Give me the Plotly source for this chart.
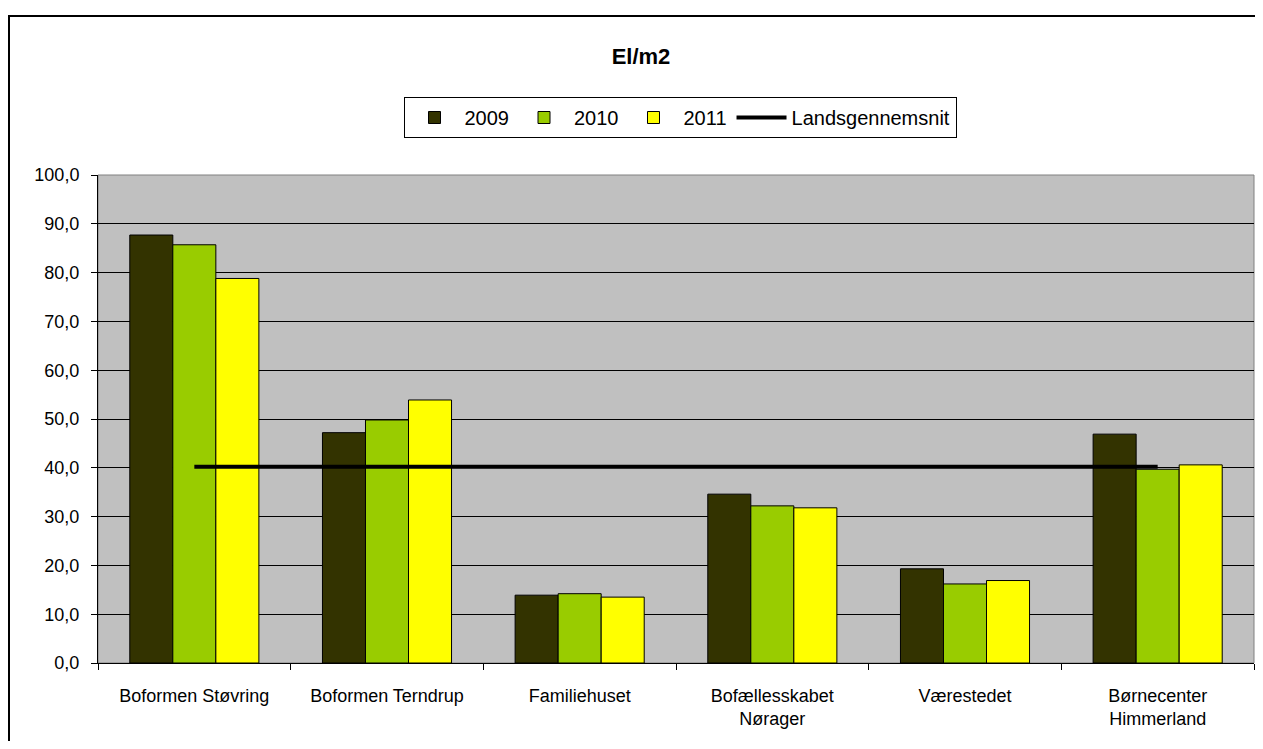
import plotly.graph_objects as go

categories = ["Boformen Støvring", "Boformen Terndrup", "Familiehuset",
              "Bofællesskabet<br>Nørager", "Værestedet", "Børnecenter<br>Himmerland"]
v2009 = [87.7, 47.2, 13.9, 34.6, 19.3, 46.9]
v2010 = [85.7, 49.8, 14.2, 32.2, 16.2, 39.7]
v2011 = [78.8, 53.9, 13.5, 31.8, 16.9, 40.6]
landsgennemsnit = [40.2] * len(categories)
y_ticks = [0, 10, 20, 30, 40, 50, 60, 70, 80, 90, 100]

OFF = 8  # page body margin
W, H = 1263 - 2 * OFF, 749 - 2 * OFF
L, R, T, B = 98 - OFF, 1254 - OFF, 175 - OFF, 663 - OFF


def px(x):
    return (x - OFF - L) / (R - L)


def py(y):
    return (B - (y - OFF)) / (B - T)


FAM = "Liberation Sans, Arial, sans-serif"
font = dict(family=FAM, size=18, color="black")

fig = go.Figure()
for name, vals, col in [("2009", v2009, "#333300"), ("2010", v2010, "#99CC00"), ("2011", v2011, "#FFFF00")]:
    fig.add_trace(go.Bar(x=categories, y=vals, name=name,
                         marker=dict(color=col, line=dict(color="black", width=1))))
fig.add_trace(go.Scatter(x=categories, y=landsgennemsnit, name="Landsgennemsnit",
                         mode="lines", line=dict(color="black", width=4)))

fig.update_layout(
    width=W, height=H,
    margin=dict(l=L, r=W - R, t=T, b=H - B, pad=0),
    paper_bgcolor="white", plot_bgcolor="#C0C0C0",
    font=font,
    separators=",.",
    barmode="group", bargap=0.33, bargroupgap=0,
    title=dict(text="<b>El/m2</b>", x=px(641), xref="paper", xanchor="center",
               y=1 - (56 - OFF) / H, yanchor="middle",
               font=dict(size=22, family=FAM, color="black")),
    legend=dict(orientation="h", x=px(680), xanchor="center", y=py(97), yanchor="top",
                bordercolor="black", borderwidth=1, bgcolor="white",
                font=dict(size=20, family=FAM, color="black"),
                itemwidth=50, traceorder="normal", tracegroupgap=0),
    showlegend=True,
)
fig.update_xaxes(showline=True, linecolor="black", linewidth=1, ticks="outside",
                 tickson="boundaries", ticklen=6, tickcolor="black",
                 showgrid=False, ticklabelstandoff=16,
                 tickfont=dict(size=18, family=FAM, color="black"))
fig.update_yaxes(range=[0, 100], tickvals=y_ticks, tickformat=".1f",
                 showline=True, linecolor="black", linewidth=1, ticks="outside",
                 ticklen=6, tickcolor="black", showgrid=True, gridcolor="black", gridwidth=1,
                 zeroline=False, ticklabelstandoff=8,
                 tickfont=dict(size=18, family=FAM, color="black"))

# plot-area border (gray) and outer chart border
fig.add_shape(type="rect", xref="paper", yref="paper", x0=0, x1=1, y0=0, y1=1,
              line=dict(color="#808080", width=1), layer="below")
fig.add_shape(type="rect", xref="paper", yref="paper",
              x0=px(9), x1=px(1275), y0=py(770), y1=py(16),
              line=dict(color="black", width=2))

fig.write_html("out.html")
